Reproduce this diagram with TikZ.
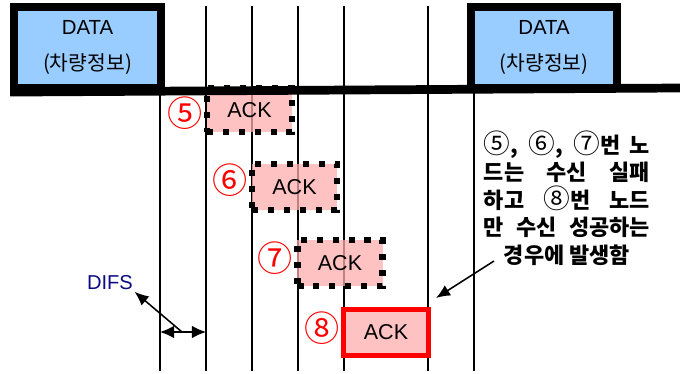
\documentclass[tikz,border=0pt]{standalone}
\usepackage{fontspec}
\setmainfont{Liberation Sans}
\newfontfamily\kr{Noto Sans CJK KR}
\usetikzlibrary{arrows.meta}
\definecolor{databl}{RGB}{153,204,255}
\definecolor{difsbl}{RGB}{10,10,130}
\newcommand\jline[1]{\makebox[4.15cm][s]{#1}}
\newcommand\cn[1]{{\mdseries\fontsize{19}{19.6}\selectfont#1}}
\begin{document}
\begin{tikzpicture}[x=0.025cm,y=-0.025cm,
	data/.style={draw=black,line width=5.8pt,fill=databl,minimum width=3.66cm,minimum height=2.025cm,inner sep=0pt,align=center,font=\fontsize{14.5}{19}\selectfont},
	ack/.style={fill=red!32,fill opacity=0.75,text opacity=1,minimum width=2.125cm,minimum height=1.15cm,inner sep=0pt,font=\fontsize{15.3}{18}\selectfont},
	dots/.style={draw=black,draw opacity=1,line width=4.3pt,dash pattern=on 4.3pt off 7pt},
	okbox/.style={draw=red,draw opacity=1,line width=3.6pt},
	num/.style={text=red,font=\kr\fontsize{25}{26}\selectfont,inner sep=0pt},
	tick/.style={line width=1.4pt},
	base/.style={line width=6.2pt},
	arr/.style={line width=1.1pt,-{Latex[length=10pt,width=8.5pt]}},
	note/.style={align=center,font=\kr\bfseries\fontsize{15.6}{19.6}\selectfont,inner sep=0pt}]
			\useasboundingbox (0,0) rectangle (680,374);
			% time slots
			\foreach \i/\x/\t in {1/160/88,2/206/6,3/252/6,4/298/6,5/344/6,6/428/6,7/474/88}{
				\coordinate (T\i) at (\x,\t);
				\coordinate (B\i) at (\x,371);
				\draw[tick] (T\i) -- (B\i);
			}
			% data frames
			\node[data] (D1) at (87.5,47.5) {DATA\\[6pt]{\kr(차량정보)}};
			\node[data] (D2) at (544,47.5) {DATA\\[6pt]{\kr(차량정보)}};
			\coordinate (E) at (680,88);
			% ACK frames
			\node[ack,dots,minimum height=1.1cm] (K5) at (249.5,110) {ACK};
			\node[ack,dots] (K6) at (294.5,187) {ACK};
			\node[ack,dots] (K7) at (340,263) {ACK};
			\node[ack,okbox] (K8) at (386,332.5) {ACK};
			\draw[base] (D1.south west) -- (E);
			\node[num] (N5) at (185,113) {⑤};
			\node[num] (N6) at (230,180) {⑥};
			\node[num] (N7) at (275,258) {⑦};
			\node[num] (N8) at (322,328) {⑧};
			% DIFS
			\node[text=difsbl,font=\fontsize{14.3}{16}\selectfont,inner sep=1pt] (difs) at (110,283) {DIFS};
			\coordinate (M1) at (160,332);
			\coordinate (M2) at (206,332);
			\coordinate (P) at (182,332);
			\draw[line width=1.1pt,{Latex[length=10pt,width=9pt]}-{Latex[length=10pt,width=9pt]}] (M1) -- (M2);
			\draw[arr] (P) -- (difs.south east);
			% note
			\node[note] (note) at (567,198) {\jline{\cn{⑤}, \cn{⑥}, \cn{⑦}번 노}\\\jline{드는 수신 실패}\\\jline{하고 \cn{⑧}번 노드}\\\jline{만 수신 성공하는}\\경우에 발생함};
			\coordinate (S) at (494,261);
			\coordinate (H) at (436,298);
			\draw[arr] (S) -- (H);
		\end{tikzpicture}
\end{document}
